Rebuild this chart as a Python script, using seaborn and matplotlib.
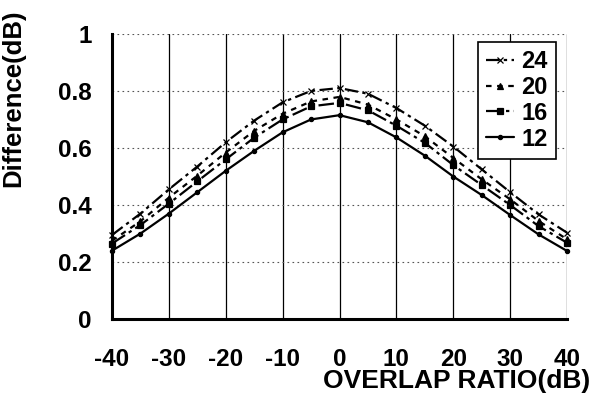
import numpy as np
import pandas as pd
import matplotlib
matplotlib.use("Agg")
import matplotlib.pyplot as plt
import seaborn as sns

x_db = [-40, -35, -30, -25, -20, -15, -10, -5, 0, 5, 10, 15, 20, 25, 30, 35, 40]
s24 = [0.295, 0.37, 0.455, 0.535, 0.62, 0.696, 0.76, 0.80, 0.81, 0.79, 0.74, 0.678, 0.605, 0.525, 0.445, 0.367, 0.303]
s20 = [0.275, 0.343, 0.426, 0.503, 0.584, 0.66, 0.72, 0.763, 0.779, 0.752, 0.70, 0.641, 0.565, 0.49, 0.42, 0.344, 0.28]
s16 = [0.265, 0.33, 0.405, 0.483, 0.56, 0.636, 0.70, 0.746, 0.758, 0.732, 0.678, 0.618, 0.54, 0.47, 0.40, 0.326, 0.268]
s12 = [0.24, 0.30, 0.37, 0.445, 0.52, 0.59, 0.655, 0.70, 0.715, 0.69, 0.637, 0.573, 0.50, 0.435, 0.365, 0.297, 0.239]
series_names = ["24", "20", "16", "12"]
x_ticks = [-40, -30, -20, -10, 0, 10, 20, 30, 40]
y_ticks = [0, 0.2, 0.4, 0.6, 0.8, 1.0]
y_tick_labels = ["0", "0.2", "0.4", "0.6", "0.8", "1"]

frames = []
for name, vals in zip(series_names, [s24, s20, s16, s12]):
    frames.append(pd.DataFrame({"x": x_db, "y": vals, "series": name}))
df = pd.concat(frames, ignore_index=True)

sns.set_style("white")
plt.rcParams["font.family"] = ["Liberation Sans", "DejaVu Sans"]
plt.rcParams["font.weight"] = "bold"
plt.rcParams["text.color"] = "black"
plt.rcParams["axes.labelcolor"] = "black"

fig = plt.figure(figsize=(6.02, 3.98), dpi=100)
ax = fig.add_axes([0.186, 0.198, 0.756, 0.717])

styles = {"24": (0, (6, 2, 1.5, 2)), "20": (0, (2.5, 2.5)),
          "16": (0, (7, 2, 1.5, 2)), "12": "-"}
markers = {"24": "x", "20": "^", "16": "s", "12": "o"}
msizes = {"24": 4.5, "20": 4, "16": 4, "12": 3}

for name in series_names:
    sub = df[df["series"] == name]
    sns.lineplot(data=sub, x="x", y="y", ax=ax, color="black",
                 linestyle=styles[name], marker=markers[name],
                 markersize=msizes[name], markeredgecolor="black",
                 markerfacecolor="black", markeredgewidth=0.9,
                 linewidth=1.6, label=name, clip_on=False)

ax.set_xlim(-40, 40)
ax.set_ylim(0, 1)
ax.set_xticks(x_ticks)
ax.set_xticklabels([str(v) for v in x_ticks])
ax.set_yticks(y_ticks)
ax.set_yticklabels(y_tick_labels)

for v in x_ticks[1:]:
    ax.axvline(v, color="black", lw=0.9, zorder=0)
for v in y_ticks[1:]:
    ax.axhline(v, color="#555555", lw=0.8, ls=(0, (1.5, 3)), zorder=0)

for s in ["top", "right"]:
    ax.spines[s].set_visible(False)
for s in ["left", "bottom"]:
    ax.spines[s].set_linewidth(2.2)
    ax.spines[s].set_color("black")

ax.tick_params(axis="y", direction="in", length=8, width=1.5, pad=14.5,
               labelsize=17.5, colors="black")
ax.tick_params(axis="x", direction="in", length=7, width=1.5, pad=21,
               labelsize=17.5, colors="black")
for lab in ax.get_xticklabels() + ax.get_yticklabels():
    lab.set_fontweight("bold")

ax.set_xlabel("OVERLAP RATIO(dB)", fontsize=19, fontweight="bold", loc="right",
              color="black")
ax.xaxis.set_label_coords(1.05, -0.175)
ax.set_ylabel("Difference(dB)", fontsize=18.5, fontweight="bold", loc="top",
              color="black")
ax.yaxis.set_label_coords(-0.19, 1.085)

handles, labels = ax.get_legend_handles_labels()
leg = ax.legend(handles, labels, loc="upper right", bbox_to_anchor=(0.976, 0.972),
                frameon=True, fancybox=False, edgecolor="black",
                prop={"size": 17, "weight": "bold"}, handlelength=1.2,
                handletextpad=0.3, labelspacing=0.12, borderpad=0.35,
                borderaxespad=0)
leg.get_frame().set_linewidth(1.2)
leg.get_frame().set_alpha(1)
for t in leg.get_texts():
    t.set_color("black")

fig.savefig("out.png", dpi=100)
